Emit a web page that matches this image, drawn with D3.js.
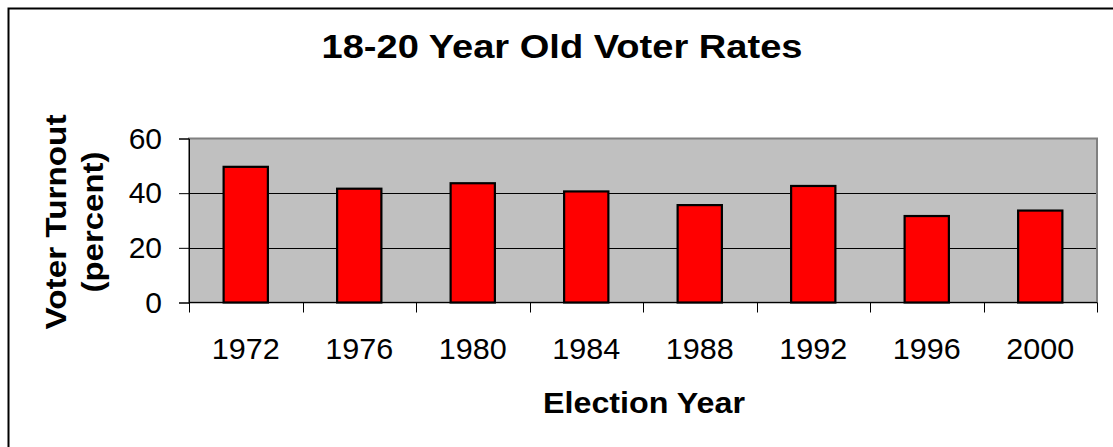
<!DOCTYPE html>
<html>
<head>
<meta charset="utf-8">
<script src="https://cdn.jsdelivr.net/npm/d3@7"></script>
<style>
  html, body { margin: 0; padding: 0; background: #fff; }
  svg { display: block; font-family: "Liberation Sans", Arial, sans-serif; }
</style>
</head>
<body>
<svg id="chart" width="1113" height="447"></svg>
<script>
const years = ["1972", "1976", "1980", "1984", "1988", "1992", "1996", "2000"];
const turnout = [50, 42, 44, 41, 36, 43, 32, 34];
const yTicks = [0, 20, 40, 60];
const titleText = "18-20 Year Old Voter Rates";
const xTitle = "Election Year";
const yTitleLines = ["Voter Turnout", "(percent)"];

const svg = d3.select("#chart");
const plot = { left: 189, right: 1097, top: 138.5, bottom: 302.5 };

// outer frame
svg.append("rect").attr("x", 8.5).attr("y", 8.5).attr("width", 1200).attr("height", 600)
  .attr("fill", "#fff").attr("stroke", "#000").attr("stroke-width", 2);

const x = d3.scaleBand().domain(years).range([plot.left, plot.right]).paddingInner(0).paddingOuter(0);
const y = d3.scaleLinear().domain([0, 60]).range([plot.bottom, plot.top]);

// plot background
svg.append("rect").attr("x", plot.left).attr("y", plot.top)
  .attr("width", plot.right - plot.left).attr("height", plot.bottom - plot.top)
  .attr("fill", "#C0C0C0");

// gridlines
svg.append("g").selectAll("line").data(yTicks.filter(d => d > 0 && d < 60)).join("line")
  .attr("x1", plot.left).attr("x2", plot.right)
  .attr("y1", d => Math.round(y(d)) + 0.5).attr("y2", d => Math.round(y(d)) + 0.5)
  .attr("stroke", "#000").attr("stroke-width", 1);

// plot border
svg.append("rect").attr("x", plot.left).attr("y", plot.top)
  .attr("width", plot.right - plot.left).attr("height", plot.bottom - plot.top)
  .attr("fill", "none").attr("stroke", "#808080").attr("stroke-width", 2);

// bars
const bw = x.bandwidth() * 0.39;
svg.append("g").selectAll("rect").data(years).join("rect")
  .attr("x", d => x(d) + (x.bandwidth() - bw) / 2)
  .attr("y", (d, i) => y(turnout[i]) + 1)
  .attr("width", bw)
  .attr("height", (d, i) => plot.bottom - y(turnout[i]) - 1)
  .attr("fill", "#FF0000").attr("stroke", "#000").attr("stroke-width", 2.2);

// y axis
const yAxis = svg.append("g").attr("transform", `translate(${plot.left},0)`)
  .call(d3.axisLeft(y).tickValues(yTicks).tickSize(10).tickPadding(17));
yAxis.select(".domain").attr("stroke", "#000");
yAxis.selectAll(".tick line").attr("stroke", "#000");
yAxis.selectAll("text").attr("font-size", 30).attr("fill", "#000")
  .attr("font-family", "Liberation Sans, Arial, sans-serif");

// x axis with ticks at band boundaries
const xAxisG = svg.append("g").attr("transform", `translate(0,${plot.bottom})`);
xAxisG.append("line").attr("x1", plot.left).attr("x2", plot.right).attr("y1", 0).attr("y2", 0)
  .attr("stroke", "#000");
const bounds = years.map(d => x(d)).concat([plot.right]);
xAxisG.selectAll("line.tk").data(bounds).join("line").attr("class", "tk")
  .attr("x1", d => Math.round(d) + 0.5).attr("x2", d => Math.round(d) + 0.5)
  .attr("y1", 0).attr("y2", 10).attr("stroke", "#000");
xAxisG.selectAll("text").data(years).join("text")
  .attr("x", d => x(d) + x.bandwidth() / 2).attr("y", 56)
  .attr("text-anchor", "middle").attr("font-size", 30).attr("fill", "#000")
  .attr("textLength", 68).attr("lengthAdjust", "spacingAndGlyphs")
  .text(d => d);

// title
svg.append("text").attr("x", 562).attr("y", 58).attr("text-anchor", "middle")
  .attr("font-size", 33).attr("font-weight", "bold")
  .attr("textLength", 481).attr("lengthAdjust", "spacingAndGlyphs").text(titleText);

// x title
svg.append("text").attr("x", 644).attr("y", 413).attr("text-anchor", "middle")
  .attr("font-size", 30).attr("font-weight", "bold")
  .attr("textLength", 202).attr("lengthAdjust", "spacingAndGlyphs").text(xTitle);

// y title
const yLens = [215, 141];
const yt = svg.append("text").attr("transform", "translate(66,222) rotate(-90)")
  .attr("text-anchor", "middle").attr("font-size", 30).attr("font-weight", "bold");
yTitleLines.forEach((t, i) => {
  yt.append("tspan").attr("x", 0).attr("y", i * 37).attr("textLength", yLens[i])
    .attr("lengthAdjust", "spacingAndGlyphs").text(t);
});
</script>
</body>
</html>
